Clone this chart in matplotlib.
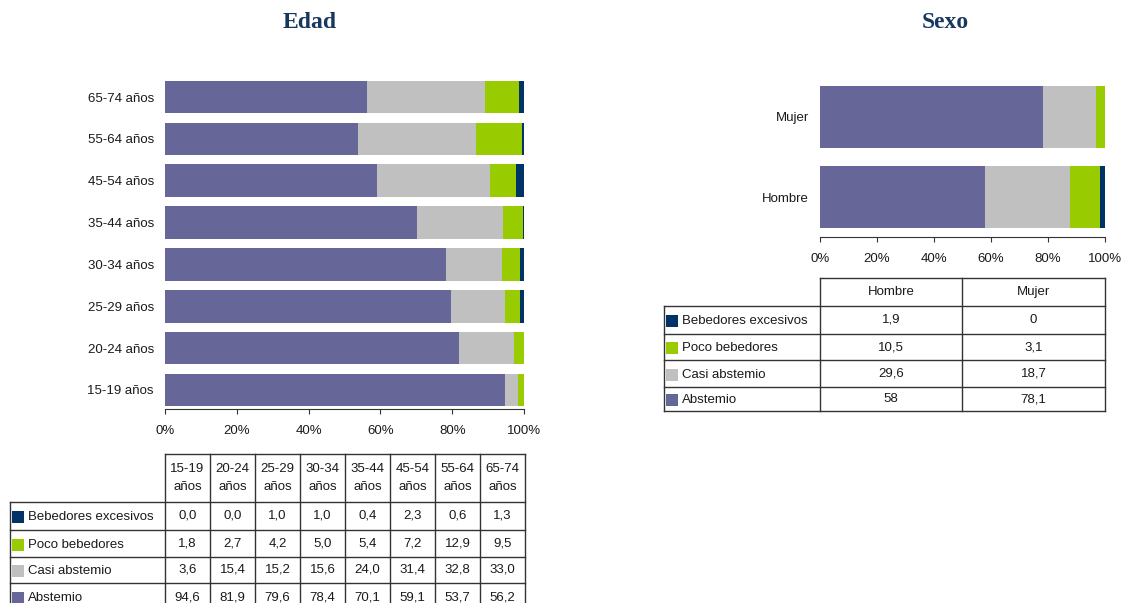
import matplotlib
matplotlib.use("Agg")
import matplotlib.pyplot as plt
import numpy as np

plt.rcParams['font.family'] = ['Liberation Sans', 'DejaVu Sans']

W, H = 1123, 603

# --- datos ---
edad = ['15-19 años', '20-24 años', '25-29 años', '30-34 años',
        '35-44 años', '45-54 años', '55-64 años', '65-74 años']
edad_abstemio = [94.6, 81.9, 79.6, 78.4, 70.1, 59.1, 53.7, 56.2]
edad_casi = [3.6, 15.4, 15.2, 15.6, 24.0, 31.4, 32.8, 33.0]
edad_poco = [1.8, 2.7, 4.2, 5.0, 5.4, 7.2, 12.9, 9.5]
edad_excesivos = [0.0, 0.0, 1.0, 1.0, 0.4, 2.3, 0.6, 1.3]

sexo = ['Hombre', 'Mujer']
sexo_abstemio = [58, 78.1]
sexo_casi = [29.6, 18.7]
sexo_poco = [10.5, 3.1]
sexo_excesivos = [1.9, 0]

series_names = ['Abstemio', 'Casi abstemio', 'Poco bebedores', 'Bebedores excesivos']
colors = ['#666699', '#C0C0C0', '#99CC00', '#003366']
ticks = [0, 20, 40, 60, 80, 100]
tick_labels = ['0%', '20%', '40%', '60%', '80%', '100%']

TXT = '#1a1a1a'
LINE = '#333333'
TITLE = '#17375E'


def stacked(ax, cats, series, height):
    vals = np.array(series, dtype=float)
    vals = vals / vals.sum(axis=0) * 100
    y = np.arange(len(cats))
    left = np.zeros(len(cats))
    for v, c in zip(vals, colors):
        ax.barh(y, v, left=left, height=height, color=c, linewidth=0)
        left += v
    ax.set_xlim(0, 100)
    ax.set_yticks(y)
    ax.set_yticklabels(cats, fontsize=9.5, color=TXT)
    ax.set_xticks(ticks)
    ax.set_xticklabels(tick_labels, fontsize=9.5, color=TXT)
    for s in ['top', 'right', 'left']:
        ax.spines[s].set_visible(False)
    ax.spines['bottom'].set_color(LINE)
    ax.tick_params(axis='y', length=0, pad=8)
    ax.tick_params(axis='x', length=3.5, direction='out', color=LINE, pad=8)


def px_axes(fig, x0, y0, x1, y1):
    return fig.add_axes([x0 / W, 1 - y1 / H, (x1 - x0) / W, (y1 - y0) / H])


fig = plt.figure(figsize=(W / 100, H / 100), dpi=100)

ax1 = px_axes(fig, 165, 78, 524, 409)
stacked(ax1, edad, [edad_abstemio, edad_casi, edad_poco, edad_excesivos], 0.78)
ax1.set_ylim(-0.454, 7.454)

ax2 = px_axes(fig, 820, 77, 1105, 237)
stacked(ax2, sexo, [sexo_abstemio, sexo_casi, sexo_poco, sexo_excesivos], 0.775)
ax2.set_ylim(-0.5, 1.5)

# capa en pixeles para titulos y tablas
ov = fig.add_axes([0, 0, 1, 1])
ov.set_xlim(0, W)
ov.set_ylim(H, 0)
ov.axis('off')
ov.patch.set_alpha(0)

ov.text(310, 22, 'Edad', ha='center', va='center', fontsize=17, fontweight='bold',
        color=TITLE, family=['Liberation Serif', 'DejaVu Serif'])
ov.text(945, 22, 'Sexo', ha='center', va='center', fontsize=17, fontweight='bold',
        color=TITLE, family=['Liberation Serif', 'DejaVu Serif'])


def draw_table(lab_x0, col_x, head_top, row_y, headers, rows, fmt):
    # lineas
    kw = dict(color=LINE, linewidth=1, clip_on=False)
    ov.plot([col_x[0], col_x[-1]], [head_top, head_top], **kw)
    for y in row_y:
        ov.plot([lab_x0, col_x[-1]], [y, y], **kw)
    ov.plot([lab_x0, lab_x0], [row_y[0], row_y[-1]], **kw)
    for x in col_x:
        ov.plot([x, x], [head_top, row_y[-1]], **kw)
    # encabezados
    for i, h in enumerate(headers):
        cx = (col_x[i] + col_x[i + 1]) / 2
        ov.text(cx, (head_top + row_y[0]) / 2, h, ha='center', va='center',
                fontsize=9.5, color=TXT, linespacing=1.6)
    # filas: excesivos, poco, casi, abstemio
    for r, (name, color, vals) in enumerate(rows):
        cy = (row_y[r] + row_y[r + 1]) / 2
        ov.scatter([lab_x0 + 8], [cy + 1], marker='s', s=65, color=color, linewidths=0)
        ov.text(lab_x0 + 18, cy + 1, name, ha='left', va='center', fontsize=9.5, color=TXT)
        for i, v in enumerate(vals):
            cx = (col_x[i] + col_x[i + 1]) / 2
            ov.text(cx, cy, fmt(v), ha='center', va='center', fontsize=9.5, color=TXT)


order = [3, 2, 1, 0]
edad_series = [edad_abstemio, edad_casi, edad_poco, edad_excesivos]
sexo_series = [sexo_abstemio, sexo_casi, sexo_poco, sexo_excesivos]

draw_table(10, [165 + 45 * i for i in range(9)], 454, [502, 530, 557, 583, 611],
           [e.replace(' ', '\n') for e in edad],
           [(series_names[k], colors[k], edad_series[k]) for k in order],
           lambda v: f"{v:.1f}".replace('.', ','))

draw_table(664, [820, 962, 1105], 278, [306, 334, 360, 387, 411],
           sexo,
           [(series_names[k], colors[k], sexo_series[k]) for k in order],
           lambda v: f"{v:g}".replace('.', ','))

fig.savefig('out.png', dpi=100)
